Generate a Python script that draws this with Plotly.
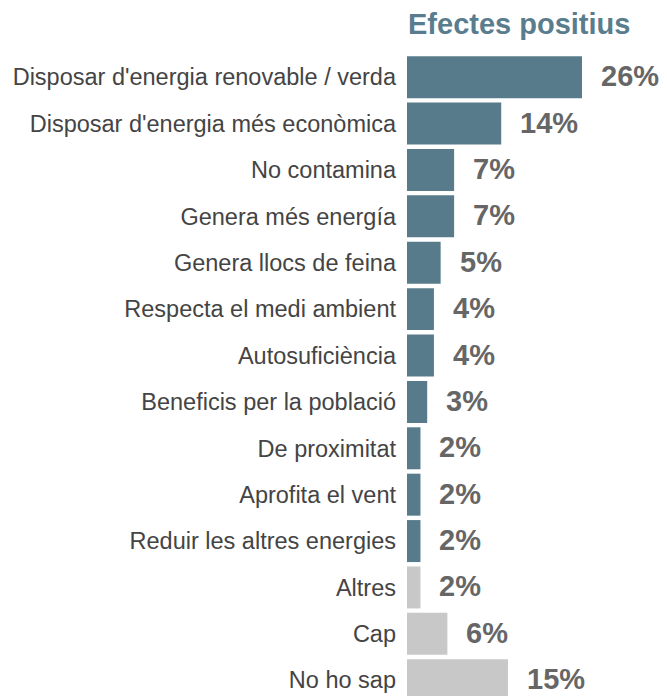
import plotly.graph_objects as go

categories = [
    "Disposar d'energia renovable / verda",
    "Disposar d'energia més econòmica",
    "No contamina",
    "Genera més energía",
    "Genera llocs de feina",
    "Respecta el medi ambient",
    "Autosuficiència",
    "Beneficis per la població",
    "De proximitat",
    "Aprofita el vent",
    "Reduir les altres energies",
    "Altres",
    "Cap",
    "No ho sap",
]
values = [26, 14, 7, 7, 5, 4, 4, 3, 2, 2, 2, 2, 6, 15]
labels = [f"{v}%" for v in values]
title_text = "Efectes positius"

TEAL = "#587b8b"
GREY = "#c8c8c8"
colors = [TEAL] * 11 + [GREY] * 3

fig = go.Figure()
fig.add_trace(go.Bar(
    x=values, y=categories, orientation="h",
    marker=dict(color=colors, line=dict(width=0)),
    hoverinfo="skip",
))

for c, v, t in zip(categories, values, labels):
    fig.add_annotation(x=v, y=c, text=f"<b>{t}</b>", showarrow=False,
                       xanchor="left", yanchor="middle", xshift=17, yshift=1,
                       font=dict(family="Liberation Sans, Arial", size=29, color="#666666"))

fig.add_annotation(x=0, y=1, xref="x", yref="paper", yshift=30,
                   text=f"<b>{title_text}</b>", showarrow=False, borderpad=0,
                   xanchor="left", yanchor="middle",
                   font=dict(family="Liberation Sans, Arial", size=29, color="#5a7d8e"))

fig.update_layout(
    width=659, height=688,
    margin=dict(l=399, r=0, t=46, b=0, pad=0),
    plot_bgcolor="white", paper_bgcolor="white",
    bargap=0.095,
    showlegend=False,
    xaxis=dict(range=[0, 38.63], visible=False, fixedrange=True),
    yaxis=dict(type="category", range=[13.34, -0.5], showgrid=False, zeroline=False,
               showline=False, ticks="", ticklabelstandoff=10, automargin=False,
               tickfont=dict(family="Liberation Sans, Arial", size=23.5, color="#444444")),
)

fig.write_html("out.html")
